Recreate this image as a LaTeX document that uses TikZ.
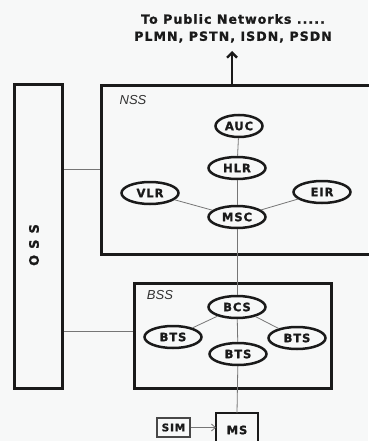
\documentclass[tikz,border=0pt]{standalone}
\usepackage{fontspec}
\setmainfont{Liberation Sans}
\newfontfamily\lbl[LetterSpace=8,FakeBold=1.2]{DejaVu Sans}
\usetikzlibrary{shapes.geometric,arrows.meta}
\definecolor{ink}{HTML}{1A1A1A}
\definecolor{bg}{HTML}{F7F8F8}
\tikzset{
  box/.style={draw=ink, line width=2.8pt, inner sep=0pt},
  ell/.style={ellipse, draw=ink, line width=2.5pt, fill=bg, minimum width=57pt, minimum height=22pt, inner sep=0pt, text=ink, font=\lbl\bfseries\fontsize{11.5}{12}\selectfont},
  conn/.style={draw=ink!60, line width=0.8pt},
  ttl/.style={text=ink, font=\lbl\bfseries\fontsize{12.6}{13}\selectfont, inner sep=0pt},
  lab/.style={text=ink!90, font=\itshape\fontsize{13}{13}\selectfont, inner sep=0pt}
}
\begin{document}
\begin{tikzpicture}[x=1pt,y=-1pt]
\fill[bg] (0,0) rectangle (368,441);
\useasboundingbox (0,0) rectangle (368,441);
% boxes
\node[box, minimum width=48pt, minimum height=304pt, anchor=north west] (oss) at (13,83) {};
\node[box, minimum width=275pt, minimum height=169pt, anchor=north west] (nss) at (100,84) {};
\node[box, minimum width=197pt, minimum height=105pt, anchor=north west] (bss) at (133,282) {};
\node[lab] (nsslab) at (133,100) {NSS};
\node[lab] (bsslab) at (160,295) {BSS};
\node[ttl, rotate=90, font=\lbl\bfseries\fontsize{13}{13}\selectfont] (osslab) at (34,245) {O\hspace{6pt}S\hspace{6pt}S};
% top text
\node[ttl] (t1) at (233,19) {To Public Networks .....};
\node[ttl] (t2) at (233,37) {PLMN, PSTN, ISDN, PSDN};
\coordinate (arrtop) at (232,51);
\draw[draw=ink, line width=2.6pt, -{Straight Barb[length=5pt,width=10pt,line width=2.4pt]}] (arrtop |- nss.north) -- (arrtop);
% NSS content
\node[ell, minimum width=47pt] (auc) at (239,126) {AUC};
\node[ell] (hlr) at (237,168) {HLR};
\node[ell] (vlr) at (150,193) {VLR};
\node[ell] (eir) at (322,192) {EIR};
\node[ell] (msc) at (237,217) {MSC};
% BSS content
\node[ell] (bcs) at (237,307) {BCS};
\node[ell] (bts1) at (173,337) {BTS};
\node[ell] (bts2) at (238,354) {BTS};
\node[ell] (bts3) at (297,338) {BTS};
% MS, SIM
\draw[draw=ink, line width=2.8pt] (216,445) -- (216,413) coordinate (msnw) -- (258,413) coordinate (msne) -- (258,445);
\node[text=ink, font=\lbl\bfseries\fontsize{11.5}{12}\selectfont] (ms) at (237,430) {MS};
\node[draw=ink!80, line width=1.2pt, minimum width=33pt, minimum height=19pt, inner sep=0pt, text=ink, font=\lbl\bfseries\fontsize{10.5}{11}\selectfont] (sim) at (173.5,427.5) {SIM};
% connectors
\coordinate (o1) at (0,169);
\coordinate (o2) at (0,331);
\coordinate (msx) at (237,413);
\draw[conn] (oss.east |- o1) -- (nss.west |- o1);
\draw[conn] (oss.east |- o2) -- (bss.west |- o2);
\draw[conn] (auc) -- (hlr);
\draw[conn] (hlr) -- (msc);
\draw[conn] (vlr) -- (msc);
\draw[conn] (eir) -- (msc);
\draw[conn] (msc) -- (bcs);
\draw[conn] (bcs) -- (bts1);
\draw[conn] (bcs) -- (bts2);
\draw[conn] (bcs) -- (bts3);
\draw[conn] (bts2) -- (msx);
\draw[conn, -{Straight Barb[length=4pt,width=7pt]}] (sim.east) -- (sim.east -| msnw);
\end{tikzpicture}
\end{document}
